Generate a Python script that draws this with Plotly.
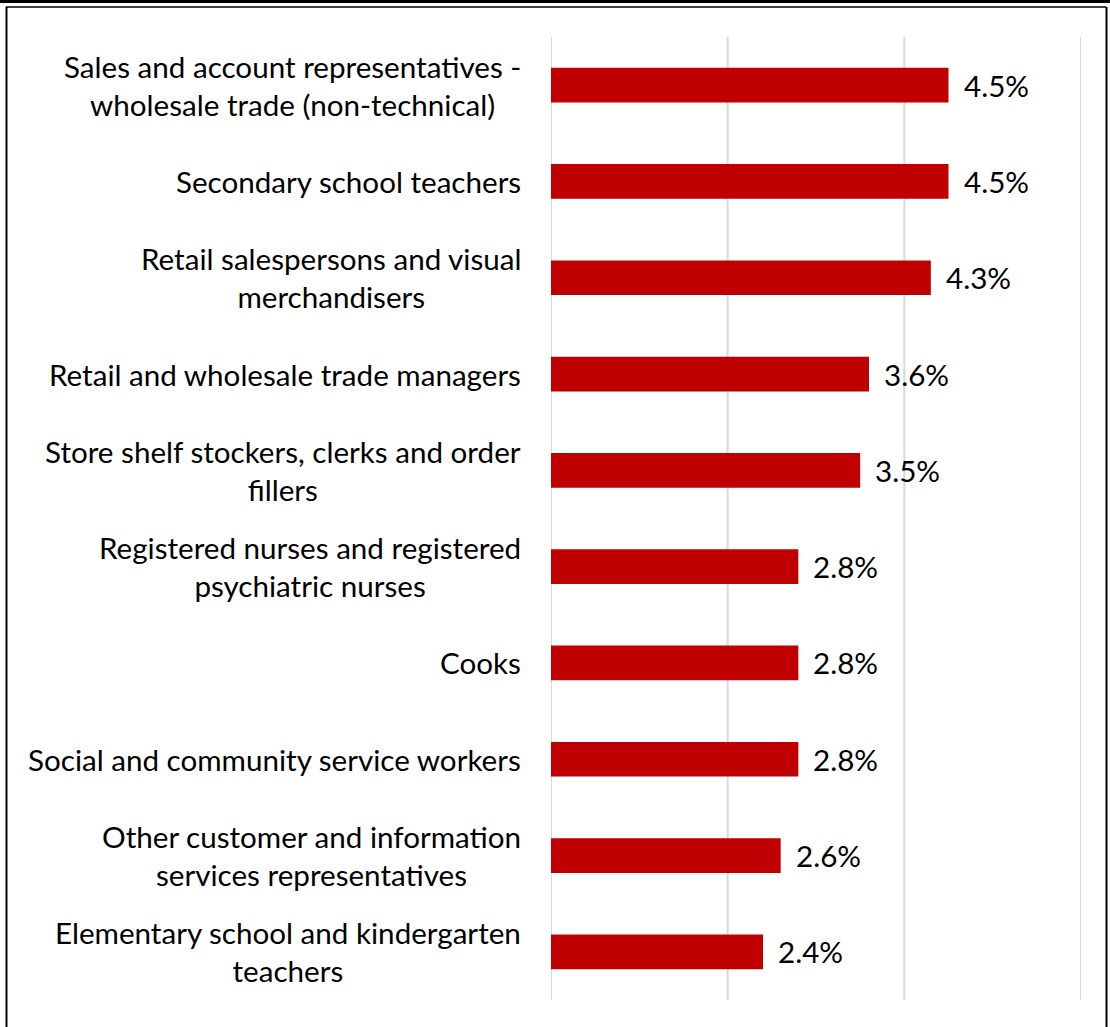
import plotly.graph_objects as go

# Occupations and their shares
occupations = [
    "Sales and account representatives -<br>wholesale trade (non-technical)",
    "Secondary school teachers",
    "Retail salespersons and visual<br>merchandisers",
    "Retail and wholesale trade managers",
    "Store shelf stockers, clerks and order<br>fillers",
    "Registered nurses and registered<br>psychiatric nurses",
    "Cooks",
    "Social and community service workers",
    "Other customer and information<br>services representatives",
    "Elementary school and kindergarten<br>teachers",
]
shares = [4.5, 4.5, 4.3, 3.6, 3.5, 2.8, 2.8, 2.8, 2.6, 2.4]

W, H = 1110, 1027
ML, MR, MT, MB = 551, 29, 37, 27
FONT = "Lato"
FS = 29.6
BAR_RED = "#C00000"
GRID = "#d9d9d9"

fig = go.Figure(
    go.Bar(
        x=shares,
        y=occupations,
        orientation="h",
        width=0.36,
        marker=dict(color=BAR_RED, line=dict(width=0)),
        hoverinfo="skip",
    )
)

pw, ph = W - ML - MR, H - MT - MB
def px(xp):
    return (xp - ML) / pw
def py(yp):
    return 1 - (yp - MT) / ph

# category labels: block right-aligned next to the axis, lines centred
for occ in occupations:
    fig.add_annotation(
        x=px(523), xref="paper", y=occ, yref="y", text=occ,
        showarrow=False, xanchor="right", yanchor="middle", align="center",
        font=dict(family=FONT, size=FS, color="#000000"),
    )

# value labels just past the end of each bar
for occ, v in zip(occupations, shares):
    fig.add_annotation(
        x=v, y=occ, text=f"{v:.1f}%", showarrow=False,
        xanchor="left", yanchor="middle", xshift=13,
        font=dict(family=FONT, size=FS, color="#000000"),
    )

# frame around the chart
frame = [
    (0, 1.5, W, 1.5, 3),           # heavy top rule
    (6, 7, 1106, 7, 1.5),          # inner top rule
    (6.5, 7, 6.5, H + 5, 2),       # left edge
    (1106.5, 7, 1106.5, H + 5, 2), # right edge
]
for x0, y0, x1, y1, w in frame:
    fig.add_shape(
        type="line", xref="paper", yref="paper",
        x0=px(x0), y0=py(y0), x1=px(x1), y1=py(y1),
        line=dict(color="#000000", width=w), layer="above",
    )

# vertical gridlines at 0, 2, 4, 6 %
for gx in [0, 2, 4, 6]:
    fig.add_shape(
        type="line", xref="x", yref="paper", x0=gx, x1=gx, y0=0, y1=1,
        line=dict(color=GRID, width=2), layer="below",
    )

fig.update_layout(
    width=W, height=H,
    margin=dict(l=ML, r=MR, t=MT, b=MB),
    paper_bgcolor="white", plot_bgcolor="white",
    showlegend=False,
    font=dict(family=FONT, size=FS, color="#000000"),
)
fig.update_xaxes(
    range=[0, 6], showticklabels=False, showgrid=False,
    zeroline=False, showline=False, fixedrange=True,
)
fig.update_yaxes(
    autorange="reversed", showgrid=False, zeroline=False,
    showline=False, ticks="", showticklabels=False, fixedrange=True,
)

fig.write_html("out.html", config={"displayModeBar": False})
